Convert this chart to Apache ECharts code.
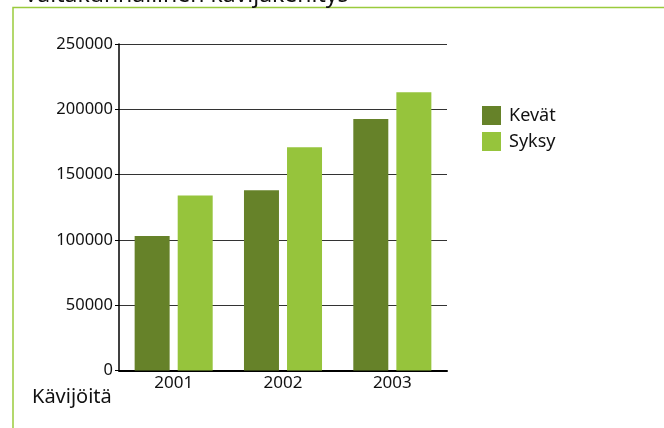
<!DOCTYPE html>
<html><head><meta charset="utf-8">
<script src="https://cdn.jsdelivr.net/npm/echarts@6/dist/echarts.min.js"></script>
<style>html,body{margin:0;padding:0;background:#fff}#c{width:664px;height:428px}</style>
</head><body><div id="c"></div>
<script>
const categories = ['2001', '2002', '2003'];
const kevat = [103000, 138000, 192500];
const syksy = [134000, 171000, 213000];
const seriesNames = ['Kevät', 'Syksy'];
const yTicks = [0, 50000, 100000, 150000, 200000, 250000];
const titleText = 'Valtakunnallinen kävijäkehitys';
const yName = 'Kävijöitä';

const font = 'Noto Sans';
const chart = echarts.init(document.getElementById('c'), null, {renderer: 'canvas'});
chart.setOption({
  backgroundColor: '#fff',
  animation: false,
  textStyle: {fontFamily: font},
  grid: {left: 119, right: 217, top: 44, bottom: 57.5, containLabel: false},
  legend: {
    orient: 'vertical', left: 477, top: 101,
    itemWidth: 19, itemHeight: 19, itemGap: 7,
    icon: 'rect',
    textStyle: {fontFamily: font, fontSize: 18, color: '#111', padding: [0, 0, 0, 3]},
    data: seriesNames
  },
  xAxis: {
    type: 'category', data: categories,
    axisLine: {lineStyle: {color: '#000', width: 2}},
    axisTick: {show: false},
    axisLabel: {fontFamily: font, fontSize: 17, color: '#111', margin: 4}
  },
  yAxis: {
    type: 'value', min: yTicks[0], max: yTicks[yTicks.length - 1], interval: 50000,
    axisLine: {show: true, lineStyle: {color: '#000', width: 1.5}},
    axisTick: {show: true, length: 4, lineStyle: {color: '#000'}},
    splitLine: {show: true, lineStyle: {color: '#333', width: 1}},
    axisLabel: {fontFamily: font, fontSize: 16.5, color: '#111', margin: 6,
                formatter: v => String(v)}
  },
  series: [
    {name: seriesNames[0], type: 'bar', data: kevat, barWidth: 35, barGap: '23%',
     itemStyle: {color: '#668229'}},
    {name: seriesNames[1], type: 'bar', data: syksy, barWidth: 35,
     itemStyle: {color: '#96c43c'}}
  ],
  graphic: [
    {type: 'rect', shape: {x: 13, y: 7.5, width: 700, height: 500}, silent: true,
     style: {fill: 'none', stroke: '#9acb3c', lineWidth: 1.5}, z: -1},
    {type: 'text', left: 24, top: -16,
     style: {text: titleText, font: '23px "Noto Sans"', fill: '#111'}},
    {type: 'text', left: 32, top: 387,
     style: {text: yName, font: '20px "Noto Sans"', fill: '#111'}}
  ]
});
</script></body></html>
